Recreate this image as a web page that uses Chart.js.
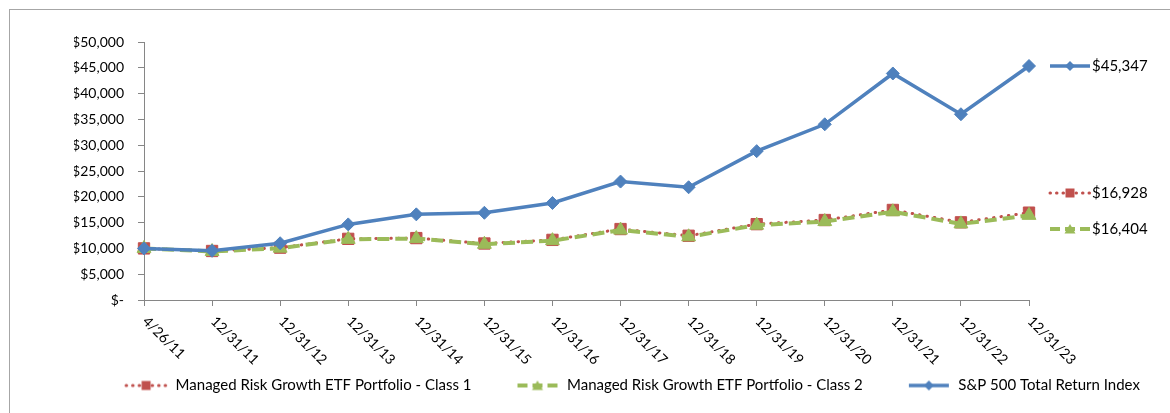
<!DOCTYPE html>
<html>
<head>
<meta charset="utf-8">
<script src="https://cdn.jsdelivr.net/npm/chart.js@4.4.1/dist/chart.umd.min.js"></script>
<style>
  html, body { margin: 0; padding: 0; background: #fff; overflow: hidden; }
  #wrap { position: relative; width: 1170px; height: 413px; }
  #frame { position: absolute; left: 9px; top: 9px; width: 1300px; height: 500px;
           border-left: 1px solid #a6a6a6; border-top: 1px solid #a6a6a6; }
  canvas { position: absolute; left: 0; top: 0; }
</style>
</head>
<body>
<div id="wrap">
  <div id="frame"></div>
  <canvas id="growthChart" width="1170" height="413"></canvas>
</div>
<script>
const dates = ["4/26/11", "12/31/11", "12/31/12", "12/31/13", "12/31/14", "12/31/15", "12/31/16",
               "12/31/17", "12/31/18", "12/31/19", "12/31/20", "12/31/21", "12/31/22", "12/31/23"];
const class1 = [10000, 9500, 10150, 11850, 12000, 10950, 11650, 13750, 12450, 14700, 15500, 17450, 15050, 16928];
const class2 = [10000, 9400, 10050, 11750, 11900, 10800, 11500, 13550, 12250, 14500, 15200, 17100, 14750, 16404];
const sp500 = [10000, 9530, 11000, 14650, 16600, 16900, 18800, 22950, 21850, 28850, 34050, 43900, 36000, 45347];
const seriesNames = ["Managed Risk Growth ETF Portfolio - Class 1",
                     "Managed Risk Growth ETF Portfolio - Class 2",
                     "S&P 500 Total Return Index"];

const RED = "#C0504D", GREEN = "#9BBB59", BLUE = "#4F81BD";
const FONT = "Lato, 'Open Sans', sans-serif";
const LEAD = 20; // blank room on the left of each sample picture

// little line + marker pictures used in the legend and beside the last points
function makeSample(color, dash, width, marker) {
  const c = document.createElement("canvas");
  c.width = LEAD + 44; c.height = 16;
  const g = c.getContext("2d");
  g.translate(LEAD, 0);
  g.strokeStyle = color;
  g.fillStyle = color;
  g.lineWidth = width;
  g.setLineDash(dash);
  g.lineCap = dash.length && dash[0] < 2 ? "round" : "butt";
  g.beginPath(); g.moveTo(2, 8); g.lineTo(42, 8); g.stroke();
  g.setLineDash([]);
  g.beginPath();
  if (marker === "rect") g.rect(17.5, 3.5, 9, 9);
  else if (marker === "triangle") { g.moveTo(22, 3); g.lineTo(27.5, 12.5); g.lineTo(16.5, 12.5); g.closePath(); }
  else { g.moveTo(22, 3); g.lineTo(27, 8); g.lineTo(22, 13); g.lineTo(17, 8); g.closePath(); }
  g.fill();
  return c;
}
const samples = [
  makeSample(RED, [0.5, 6], 3, "rect"),
  makeSample(GREEN, [10, 5], 4, "triangle"),
  makeSample(BLUE, [], 3.5, "rectRot"),
];

const endLabels = {
  id: "endLabels",
  afterDatasetsDraw(chart) {
    const { ctx, chartArea } = chart;
    const y = chart.scales.y;
    const last = dates.length - 1;
    const shifts = [-20, 14, 0];
    ctx.save();
    ctx.font = "15px " + FONT;
    ctx.fillStyle = "#000";
    ctx.textBaseline = "middle";
    chart.data.datasets.forEach((ds, i) => {
      const v = ds.data[last];
      const py = Math.round(y.getPixelForValue(v) + shifts[i]);
      const sx = chartArea.right + 19;
      ctx.drawImage(samples[i], sx - LEAD, py - 8);
      ctx.fillText("$" + v.toLocaleString("en-US"), sx + 44, py);
    });
    ctx.restore();
  }
};

const slantedDates = {
  id: "slantedDates",
  afterDraw(chart) {
    const { ctx } = chart;
    const x = chart.scales.x;
    ctx.save();
    ctx.font = "14px " + FONT;
    ctx.fillStyle = "#000";
    ctx.textAlign = "left";
    ctx.textBaseline = "middle";
    dates.forEach((d, i) => {
      const px = x.getPixelForValue(i);
      ctx.save();
      ctx.translate(px + 1, x.top + 19);
      ctx.rotate(Math.PI / 4);
      ctx.fillText(d, 0, 0);
      ctx.restore();
    });
    ctx.restore();
  }
};

new Chart(document.getElementById("growthChart"), {
  type: "line",
  data: {
    labels: dates,
    datasets: [
      { label: seriesNames[0], data: class1, order: 2, borderColor: RED, backgroundColor: RED,
        borderWidth: 3, borderDash: [0.5, 7], borderCapStyle: "round",
        pointStyle: "rect", pointRadius: 8, pointBorderWidth: 1, tension: 0 },
      { label: seriesNames[1], data: class2, order: 1, borderColor: GREEN, backgroundColor: GREEN,
        borderWidth: 4, borderDash: [12, 6],
        pointStyle: "triangle", pointRadius: 8, pointBorderWidth: 1, tension: 0 },
      { label: seriesNames[2], data: sp500, order: 0, borderColor: BLUE, backgroundColor: BLUE,
        borderWidth: 3.5,
        pointStyle: "rectRot", pointRadius: 6.5, pointBorderWidth: 1, tension: 0 },
    ],
  },
  options: {
    responsive: false,
    animation: false,
    devicePixelRatio: 1,
    layout: { padding: { left: 74, top: 42, right: 0, bottom: 10 } },
    plugins: {
      tooltip: { enabled: false },
      legend: {
        position: "bottom",
        labels: {
          usePointStyle: true,
          pointStyleWidth: LEAD + 44,
          padding: 24,
          color: "#000",
          font: { family: FONT, size: 15 },
          generateLabels: (chart) => chart.data.datasets.map((ds, i) => ({
            text: ds.label, pointStyle: samples[i], fontColor: "#000",
            datasetIndex: i, lineWidth: 0, strokeStyle: "transparent", fillStyle: "transparent",
          })),
        },
      },
    },
    scales: {
      x: {
        offset: false,
        grid: { display: true, offset: false, drawOnChartArea: false, drawTicks: true, tickLength: 6, color: "#868686" },
        border: { display: true, color: "#868686", width: 1 },
        ticks: { display: false },
        afterFit: (s) => { s.height = 54; },
      },
      y: {
        min: 0,
        max: 50000,
        grid: { display: true, drawOnChartArea: false, drawTicks: true, tickLength: 6, color: "#868686" },
        border: { display: true, color: "#868686", width: 1 },
        ticks: {
          stepSize: 5000,
          padding: 14,
          color: "#000",
          font: { family: FONT, size: 14 },
          callback: (v) => v === 0 ? "$-" : "$" + v.toLocaleString("en-US"),
        },
        afterFit: (s) => { s.width = 70; },
      },
      yRight: {
        position: "right",
        display: true,
        grid: { display: false },
        border: { display: false },
        ticks: { display: false },
        afterFit: (s) => { s.width = 141; },
      },
    },
  },
  plugins: [endLabels, slantedDates],
});
</script>
</body>
</html>
